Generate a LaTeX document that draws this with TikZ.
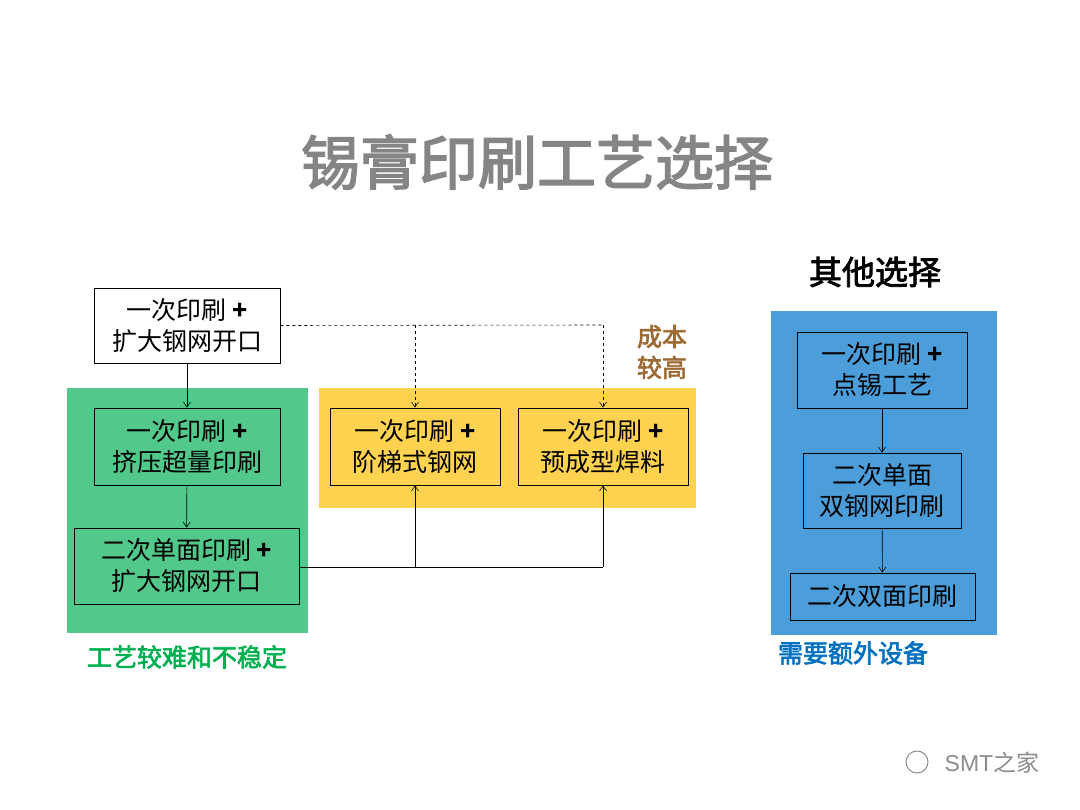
\documentclass[tikz,border=0pt]{standalone}
\usepackage{fontspec}
\newfontfamily\cjk{Noto Sans CJK SC}
\newfontfamily\cjkb{Noto Sans CJK SC}[FakeBold=2.5]
\usetikzlibrary{arrows.meta}
\definecolor{grn}{RGB}{82,200,138}
\definecolor{ylw}{RGB}{255,211,80}
\definecolor{blu}{RGB}{76,158,218}
\definecolor{grntxt}{RGB}{0,176,80}
\definecolor{blutxt}{RGB}{0,112,192}
\definecolor{brn}{RGB}{158,106,52}
\tikzset{
 box/.style={draw=black,line width=0.8pt,inner sep=0pt,align=center,font=\cjk\fontsize{25}{31}\selectfont},
 arr/.style={-{Straight Barb[length=5pt,width=7pt]},line width=0.6pt},
}
\begin{document}
\begin{tikzpicture}[x=1pt,y=-1pt]
\useasboundingbox (0,0) rectangle (1080,810);
\fill[white] (0,0) rectangle (1080,810);
\node (title) [text=black!48,font=\cjkb\fontsize{59}{59}\selectfont] at (537,162) {锡膏印刷工艺选择};
\fill[grn] (67,388) rectangle (308,633);
\fill[ylw] (319,388) rectangle (696,508);
\fill[blu] (771,311) rectangle (997,635);
\node (lg) [text=grntxt,font=\cjkb\fontsize{25}{25}\selectfont] at (187,657) {工艺较难和不稳定};
\node (lb) [text=blutxt,font=\cjkb\fontsize{25}{25}\selectfont] at (853,653) {需要额外设备};
\node (ly) [text=brn,align=center,font=\cjkb\fontsize{25}{31}\selectfont] at (662,352) {成本\\较高};
\node (other) [font=\cjkb\fontsize{33}{33}\selectfont] at (875,272) {其他选择};
\node (A) [box,fill=white,minimum width=186pt,minimum height=75pt] at (187,325.5) {一次印刷 \textbf{+}\\扩大钢网开口};
\node (B) [box,minimum width=186pt,minimum height=77pt] at (187,446.5) {一次印刷 \textbf{+}\\挤压超量印刷};
\node (C) [box,minimum width=225pt,minimum height=76pt] at (186.5,566) {二次单面印刷 \textbf{+}\\扩大钢网开口};
\node (D) [box,minimum width=170pt,minimum height=77pt] at (415,446.5) {一次印刷 \textbf{+}\\阶梯式钢网};
\node (E) [box,minimum width=170pt,minimum height=77pt] at (603,446.5) {一次印刷 \textbf{+}\\预成型焊料};
\node (F) [box,minimum width=170pt,minimum height=76pt] at (882,370) {一次印刷 \textbf{+}\\点锡工艺};
\node (G) [box,minimum width=158pt,minimum height=75pt] at (882,490.5) {二次单面\\双钢网印刷};
\node (H) [box,minimum width=185pt,minimum height=47pt] at (882.5,596.5) {二次双面印刷};
\draw[arr] (A) -- (B);
\draw[arr] (B) -- (C);
\draw[arr] (F) -- (G);
\draw[arr] (G) -- (H);
\coordinate (dj) at (603,325);
\draw[dashed,line width=0.6pt] (A.east) -- (dj);
\draw[arr,dashed] (415,325) -- (D.north);
\draw[arr,dashed] (dj) -- (E.north);
\coordinate (sj) at (603,567);
\draw[line width=0.6pt] (C.east |- sj) -- (sj);
\draw[arr] (415,567) -- (D.south);
\draw[arr] (sj) -- (E.south);
\node (wm) [text=black!45,font=\fontspec{Liberation Sans}\fontsize{23}{23}\selectfont] at (992,763) {SMT\cjk 之家};
\draw[black!45,line width=1pt] (917,762) circle (11pt);
\end{tikzpicture}
\end{document}
